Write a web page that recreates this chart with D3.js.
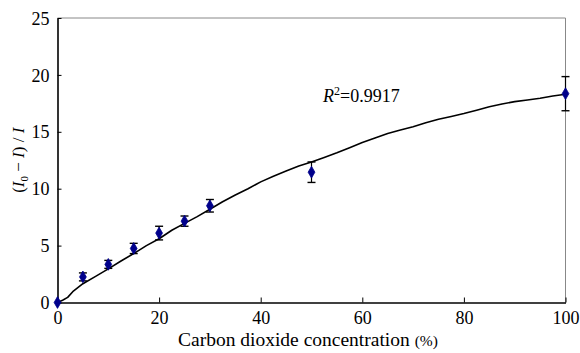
<!DOCTYPE html>
<html>
<head>
<meta charset="utf-8">
<script src="https://cdn.jsdelivr.net/npm/d3@7/dist/d3.min.js"></script>
<style>
  html, body { margin: 0; padding: 0; background: #fff; }
  svg { display: block; }
  svg text { font-family: "Liberation Serif", "Times New Roman", "DejaVu Serif", serif; fill: #000; }
</style>
</head>
<body>
<svg id="chart" width="580" height="353"></svg>
<script>
// Measured quenching ratio vs CO2 concentration, with error bars
const concentration = [0, 5, 10, 15, 20, 25, 30, 50, 100];
const ratio = [0, 2.25, 3.35, 4.75, 6.1, 7.15, 8.5, 11.45, 18.35];
const ratioError = [0, 0.35, 0.35, 0.45, 0.6, 0.45, 0.55, 0.9, 1.5];

// Fitted calibration curve
const fitX = [0, 1, 2, 3, 5, 7.5, 10, 12.5, 15, 17.5, 20, 22.5, 25, 27.5, 30, 32.5, 35, 37.5, 40, 42.5, 45, 47.5, 50, 52.5, 55, 57.5, 60, 62.5, 65, 67.5, 70, 72.5, 75, 77.5, 80, 82.5, 85, 87.5, 90, 92.5, 95, 97.5, 100];
const fitY = [0, 0.2, 0.45, 0.95, 1.65, 2.3, 2.95, 3.65, 4.3, 5.0, 5.6, 6.35, 6.95, 7.55, 8.2, 8.85, 9.45, 10.0, 10.6, 11.1, 11.55, 12.0, 12.35, 12.75, 13.15, 13.6, 14.05, 14.45, 14.85, 15.15, 15.45, 15.8, 16.1, 16.35, 16.6, 16.9, 17.2, 17.45, 17.65, 17.8, 17.95, 18.15, 18.3];

const xTicks = [0, 20, 40, 60, 80, 100];
const yTicks = [0, 5, 10, 15, 20, 25];
const fitLabel = "0.9917";

const svg = d3.select("#chart");
const margin = { left: 57.5, right: 14.5, top: 18, bottom: 50.5 };
const W = 580, H = 353;

const x = d3.scaleLinear().domain([0, 100]).range([margin.left, W - margin.right]);
const y = d3.scaleLinear().domain([0, 25]).range([H - margin.bottom, margin.top]);

// frame: grey top/right, black left/bottom
svg.append("line").attr("x1", x(0)).attr("x2", x(100)).attr("y1", y(25)).attr("y2", y(25))
  .attr("stroke", "#888").attr("stroke-width", 1);
svg.append("line").attr("x1", x(100)).attr("x2", x(100)).attr("y1", y(25)).attr("y2", y(0))
  .attr("stroke", "#888").attr("stroke-width", 1);

const xAxis = d3.axisBottom(x).tickValues(xTicks).tickSizeInner(-5).tickSizeOuter(0).tickPadding(9);
const yAxis = d3.axisLeft(y).tickValues(yTicks).tickSizeInner(-4).tickSizeOuter(0).tickPadding(8);

const gx = svg.append("g").attr("transform", `translate(0,${y(0)})`).call(xAxis);
const gy = svg.append("g").attr("transform", `translate(${x(0)},0)`).call(yAxis);
[gx, gy].forEach(g => {
  g.attr("font-family", null).attr("font-size", null);
  g.select(".domain").attr("stroke", "#000").attr("stroke-width", 1.6);
  g.selectAll(".tick line").attr("stroke", "#000").attr("stroke-width", 1);
  g.selectAll(".tick text").style("font-size", "18px");
});
gy.selectAll(".tick text").attr("dy", "0.34em");

// fitted curve
svg.append("path")
  .attr("d", d3.line().x((d, i) => x(fitX[i])).y(d => y(d))(fitY))
  .attr("fill", "none").attr("stroke", "#000").attr("stroke-width", 1.6)
  .attr("stroke-linejoin", "round");

// error bars
const eb = svg.append("g");
concentration.forEach((c, i) => {
  const e = ratioError[i];
  if (e <= 0) return;
  const cx = x(c);
  eb.append("line").attr("x1", cx).attr("x2", cx).attr("y1", y(ratio[i] + e)).attr("y2", y(ratio[i] - e))
    .attr("stroke", "#000").attr("stroke-width", 1.2);
  [ratio[i] + e, ratio[i] - e].forEach(v => {
    eb.append("line").attr("x1", cx - 4).attr("x2", cx + 4).attr("y1", y(v)).attr("y2", y(v))
      .attr("stroke", "#000").attr("stroke-width", 1.4);
  });
});

// diamond markers
const diamond = d3.symbol().type(d3.symbolDiamond).size(40);
svg.append("g").selectAll("path").data(concentration).join("path")
  .attr("d", diamond)
  .attr("transform", (d, i) => `translate(${x(d)},${y(ratio[i])})`)
  .attr("fill", "#00008b").attr("stroke", "#00008b").attr("stroke-width", 0.8);

// R^2 annotation
const r2 = svg.append("text").attr("x", 323).attr("y", 102).style("font-size", "18px");
r2.append("tspan").style("font-style", "italic").text("R");
r2.append("tspan").style("font-size", "12px").attr("dy", -7).text("2");
r2.append("tspan").attr("dy", 7).text("=" + fitLabel);

// x axis title
const xt = svg.append("text").attr("x", 178).attr("y", 346).style("font-size", "19.5px");
xt.append("tspan").text("Carbon dioxide concentration ");
xt.append("tspan").style("font-size", "15.5px").text("(%)");

// y axis title
const yt = svg.append("text")
  .attr("transform", `translate(24,${(y(0) + y(25)) / 2}) rotate(-90)`)
  .attr("text-anchor", "middle").style("font-size", "17px");
yt.append("tspan").text("(");
yt.append("tspan").style("font-style", "italic").text("I");
yt.append("tspan").style("font-size", "11px").attr("dy", 4).text("0");
yt.append("tspan").attr("dy", -4).text(" \u2212 ");
yt.append("tspan").style("font-style", "italic").text("I");
yt.append("tspan").text(") / ");
yt.append("tspan").style("font-style", "italic").text("I");
</script>
</body>
</html>
